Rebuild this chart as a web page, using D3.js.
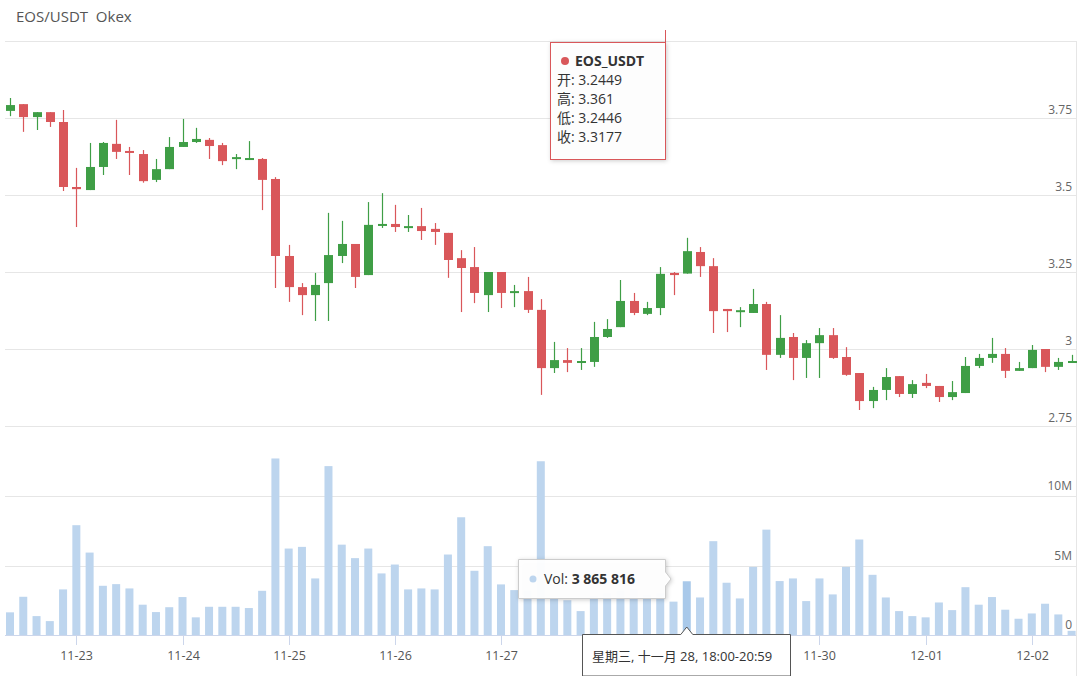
<!DOCTYPE html>
<html>
<head>
<meta charset="utf-8">
<script src="https://cdn.jsdelivr.net/npm/d3@7"></script>
<style>
  body { margin: 0; background: #fff; font-family: "Open Sans", "Noto Sans CJK SC", sans-serif; }
  svg text { font-family: "Open Sans", "Noto Sans CJK SC", sans-serif; }
</style>
</head>
<body>
<div id="chart"></div>
<script>
// 3-hour candles from 11-22 09:00 (index 5 = 11-23 00:00)
const opens  = [3.773,3.795,3.753,3.769,3.737,3.526,3.516,3.591,3.666,3.643,3.633,3.549,3.584,3.656,3.672,3.679,3.662,3.617,3.617,3.617,
                3.552,3.302,3.201,3.175,3.214,3.302,3.341,3.240,3.403,3.406,3.396,3.399,3.390,3.377,3.295,3.266,3.175,3.250,3.185,3.188,
                3.127,2.938,2.964,2.955,2.958,3.039,3.071,3.156,3.114,3.133,3.247,3.2449,3.315,3.269,3.130,3.120,3.117,3.146,2.981,3.039,
                2.971,3.019,3.045,2.974,2.922,2.831,2.867,2.912,2.854,2.890,2.880,2.844,2.857,2.945,2.971,2.984,2.929,2.938,3.000,2.942,2.958] ;
const highs  = [3.815,3.795,3.769,3.769,3.776,3.588,3.669,3.672,3.744,3.656,3.646,3.617,3.688,3.747,3.718,3.685,3.669,3.633,3.675,3.620,
                3.558,3.338,3.214,3.247,3.442,3.416,3.341,3.477,3.506,3.468,3.435,3.458,3.409,3.377,3.321,3.331,3.250,3.250,3.208,3.234,
                3.162,3.023,3.003,3.003,3.088,3.097,3.224,3.182,3.153,3.266,3.250,3.361,3.331,3.295,3.130,3.136,3.195,3.153,3.110,3.052,
                3.029,3.068,3.068,3.006,2.922,2.877,2.938,2.912,2.899,2.919,2.880,2.896,2.974,2.984,3.036,3.003,2.958,3.013,3.000,2.971,2.981] ;
const lows   = [3.756,3.705,3.711,3.721,3.513,3.396,3.516,3.565,3.617,3.565,3.540,3.542,3.584,3.656,3.669,3.617,3.597,3.584,3.614,3.451,
                3.198,3.153,3.110,3.091,3.091,3.279,3.198,3.240,3.393,3.380,3.380,3.354,3.338,3.231,3.120,3.149,3.120,3.133,3.136,3.117,
                2.851,2.922,2.925,2.932,2.942,3.036,3.071,3.110,3.110,3.110,3.175,3.2446,3.234,3.052,3.055,3.071,3.117,2.932,2.971,2.899,
                2.906,2.906,2.968,2.913,2.802,2.808,2.834,2.844,2.841,2.873,2.828,2.834,2.857,2.938,2.955,2.906,2.929,2.938,2.925,2.932,2.955] ;
const closes = [3.792,3.753,3.769,3.737,3.526,3.519,3.591,3.669,3.640,3.637,3.545,3.584,3.656,3.672,3.682,3.659,3.610,3.623,3.620,3.549,
                3.302,3.201,3.175,3.208,3.305,3.341,3.234,3.403,3.406,3.396,3.399,3.383,3.380,3.289,3.263,3.182,3.250,3.182,3.188,3.127,
                2.938,2.964,2.955,2.961,3.039,3.065,3.156,3.117,3.133,3.244,3.240,3.3177,3.269,3.123,3.123,3.126,3.146,2.981,3.036,2.971,
                3.019,3.045,2.971,2.916,2.831,2.867,2.909,2.854,2.886,2.880,2.844,2.860,2.945,2.971,2.984,2.929,2.938,2.997,2.942,2.958,2.961] ;
// volume in millions
const volumes = [1.63,2.75,1.36,1.0,3.28,7.9,5.93,3.54,3.66,3.35,2.18,1.65,2.0,2.73,1.27,2.03,2.03,2.03,1.94,3.18,
                 12.7,6.22,6.34,4.07,12.15,6.5,5.53,6.22,4.43,5.07,3.28,3.35,3.28,5.79,8.47,4.62,6.39,3.64,3.23,3.2,
                 12.5,2.6,2.5,1.72,2.8,3.0,3.2,3.3,2.9,3.0,2.4,3.865816,2.7,6.75,3.76,2.63,4.9,7.58,3.88,4.07,
                 2.44,4.07,2.92,4.9,6.87,4.33,2.7,1.72,1.36,1.27,2.34,1.79,3.44,2.18,2.73,1.82,1.17,1.55,2.25,1.48,0.3] ;
const priceTicks = [2.75, 3, 3.25, 3.5, 3.75, 4] ;
const volTicks = [0, 5, 10] ;
const dayLabels = ["11-23","11-24","11-25","11-26","11-27","11-28","11-29","11-30","12-01","12-02"] ;
// 11-28 and 11-29 sit under the date tooltip
const hiddenLabels = ["11-28","11-29"] ;

const W = 1080, H = 676 ;
const svg = d3.select("#chart").append("svg").attr("width", W).attr("height", H) ;

const x = d3.scaleLinear().domain([0, opens.length - 1]).range([10, 10 + 80 * 13.27]) ;
const y = d3.scaleLinear().domain([2.75, 4]).range([426, 41]) ;
const yv = d3.scaleLinear().domain([0, 10]).range([635, 496]) ;

svg.append("text").attr("x", 16).attr("y", 22).attr("font-size", 15).attr("fill", "#555")
  .attr("xml:space", "preserve").style("white-space", "pre").text("EOS/USDT  Okex") ;

// grid
svg.append("g").selectAll("line").data(priceTicks).enter().append("line")
  .attr("x1", 5).attr("x2", 1076).attr("y1", d => Math.round(y(d)) + 0.5).attr("y2", d => Math.round(y(d)) + 0.5)
  .attr("stroke", "#e6e6e6") ;
svg.append("g").selectAll("line").data(volTicks).enter().append("line")
  .attr("x1", 5).attr("x2", 1076).attr("y1", d => Math.round(yv(d)) + 0.5).attr("y2", d => Math.round(yv(d)) + 0.5)
  .attr("stroke", d => d === 0 ? "#ccd6eb" : "#e6e6e6") ;
svg.append("line").attr("x1", 1076.5).attr("x2", 1076.5).attr("y1", 41).attr("y2", 676).attr("stroke", "#e6e6e6") ;

svg.append("g").selectAll("text").data(priceTicks.filter(d => d < 4)).enter().append("text")
  .attr("x", 1072).attr("y", d => y(d) - 4).attr("text-anchor", "end").attr("font-size", 12).attr("fill", "#666")
  .text(d => d) ;
svg.append("g").selectAll("text").data(volTicks).enter().append("text")
  .attr("x", 1072).attr("y", d => yv(d) - 6).attr("text-anchor", "end").attr("font-size", 12).attr("fill", "#666")
  .text(d => d === 0 ? "0" : d + "M") ;

// x axis ticks and labels
const xa = svg.append("g") ;
dayLabels.forEach((lab, k) => {
  const xx = Math.round(x(5 + k * 8)) + 0.5 ;
  xa.append("line").attr("x1", xx).attr("x2", xx).attr("y1", 635).attr("y2", 645).attr("stroke", "#ccd6eb") ;
  if (!hiddenLabels.includes(lab)) {
    xa.append("text").attr("x", xx).attr("y", 660).attr("text-anchor", "middle").attr("font-size", 12.5).attr("fill", "#555").text(lab) ;
  }
}) ;

// volume bars
svg.append("g").selectAll("rect").data(volumes).enter().append("rect")
  .attr("x", (d, i) => x(i) - 4).attr("width", 8)
  .attr("y", d => yv(d)).attr("height", d => 635 - yv(d))
  .attr("fill", (d, i) => i === 51 ? "#a9c9ea" : "#bdd5ee") ;

// candles
const cg = svg.append("g") ;
opens.forEach((o, i) => {
  const c = closes[i], up = c >= o ;
  const col = up ? "#3f9e46" : "#d9575a" ;
  const xx = Math.round(x(i)) + 0.5 ;
  cg.append("line").attr("x1", xx).attr("x2", xx).attr("y1", y(highs[i])).attr("y2", y(lows[i])).attr("stroke", col).attr("stroke-width", 1.2) ;
  const top = y(Math.max(o, c)), bot = y(Math.min(o, c)) ;
  cg.append("rect").attr("x", xx - 4.5).attr("width", 9).attr("y", top).attr("height", Math.max(2, bot - top)).attr("fill", col) ;
}) ;

// OHLC tooltip
const t1 = svg.append("g") ;
t1.append("line").attr("x1", 665.5).attr("x2", 665.5).attr("y1", 30).attr("y2", 42).attr("stroke", "#d9575a") ;
t1.append("rect").attr("x", 550.5).attr("y", 42.5).attr("width", 115).attr("height", 117).attr("fill", "rgba(255,255,255,0.96)")
  .attr("stroke", "#d9575a").attr("stroke-width", 1).style("filter", "drop-shadow(1px 1px 2px rgba(0,0,0,0.2))") ;
t1.append("circle").attr("cx", 565).attr("cy", 61).attr("r", 4).attr("fill", "#d9575a") ;
t1.append("text").attr("x", 575).attr("y", 66).attr("font-size", 14).attr("font-weight", "bold").attr("fill", "#333").text("EOS_USDT") ;
const ohlcLines = ["开: " + opens[51], "高: " + highs[51], "低: " + lows[51], "收: " + closes[51]] ;
ohlcLines.forEach((s, k) => {
  t1.append("text").attr("x", 557).attr("y", 85 + k * 19).attr("font-size", 14).attr("fill", "#333").text(s) ;
}) ;

// volume tooltip
const t2 = svg.append("g") ;
t2.append("path").attr("d", "M518.5,559.5 H665.5 V572 L671,579 L665.5,586 V598.5 H518.5 Z")
  .attr("fill", "rgba(255,255,255,0.96)").attr("stroke", "#ccc").style("filter", "drop-shadow(1px 1px 2px rgba(0,0,0,0.2))") ;
t2.append("circle").attr("cx", 533).attr("cy", 579).attr("r", 3.5).attr("fill", "#bdd5ee") ;
const vt = t2.append("text").attr("x", 544).attr("y", 584).attr("font-size", 14).attr("fill", "#333") ;
vt.append("tspan").text("Vol: ") ;
vt.append("tspan").attr("font-weight", "bold").text(d3.format(",")(Math.round(volumes[51] * 1e6)).replace(/,/g, " ")) ;

// date tooltip
const t3 = svg.append("g") ;
t3.append("path").attr("d", `M582.5,634.5 H${x(51) - 6} L${x(51)},627 L${x(51) + 6},634.5 H790.5 V676 H582.5 Z`)
  .attr("fill", "#fff").attr("stroke", "#555") ;
t3.append("text").attr("x", 592).attr("y", 661).attr("font-size", 13).attr("fill", "#333").text("星期三, 十一月 28, 18:00-20:59") ;
</script>
</body>
</html>
